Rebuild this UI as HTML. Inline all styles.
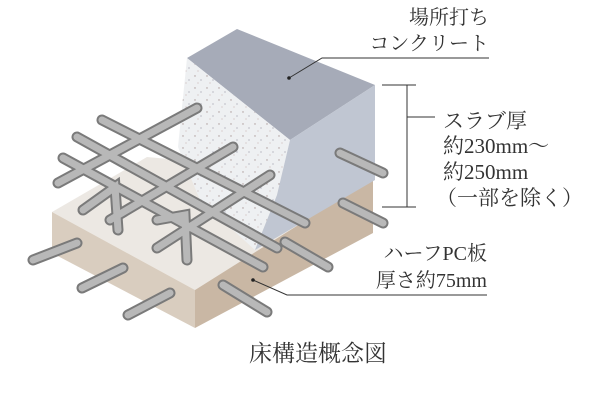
<!DOCTYPE html>
<html><head><meta charset="utf-8"><style>
html,body{margin:0;padding:0;background:#fff;}
svg{display:block;}
text{font-family:"Liberation Serif","Noto Serif CJK SC","Noto Sans CJK JP",serif;fill:#333;}
</style></head><body>
<svg width="600" height="400" viewBox="0 0 600 400" xmlns="http://www.w3.org/2000/svg">
<defs>
<pattern id="sp" width="12" height="12" patternUnits="userSpaceOnUse">
<rect width="12" height="12" fill="#eef0f2"/>
<circle cx="3" cy="4" r="0.7" fill="#a99"/><circle cx="9" cy="8" r="0.6" fill="#9a9aa8"/><circle cx="6" cy="11" r="0.5" fill="#b99"/>
</pattern>
</defs>
<!-- PC slab -->
<polygon points="52,212 147,157 373,178 195,290" fill="#ece8e3"/>
<polygon points="52,212 195,290 195,328 52,253" fill="#d9cdbf"/>
<polygon points="195,290 373,178 373,233 195,328" fill="#c9b7a4"/>
<!-- concrete block -->
<polygon points="187,58 237,29 375,85 290,140" fill="#a6abb8"/>
<polygon points="187,58 290,140 277,195 255,250 200,200 178,147" fill="url(#sp)"/>
<polygon points="290,140 375,85 375,180 255,250 277,195" fill="#c0c6d2"/>
<g stroke-linecap="round" fill="none">
<g stroke="#7a7a7a" stroke-width="11">
<polyline points="83,210 115,187 118,230"/><polyline points="157,220 185,215 187,260"/>
<line x1="58" y1="183" x2="197" y2="108"/><line x1="110" y1="220" x2="233" y2="147"/><line x1="157" y1="248" x2="270" y2="175"/>
<line x1="102" y1="120" x2="305" y2="223"/><line x1="77" y1="137" x2="277" y2="248"/><line x1="63" y1="158" x2="263" y2="267"/>
<line x1="340" y1="153" x2="383" y2="173"/><line x1="343" y1="203" x2="383" y2="223"/><line x1="285" y1="242" x2="328" y2="267"/><line x1="223" y1="285" x2="267" y2="312"/>
<line x1="33" y1="260" x2="77" y2="243"/><line x1="82" y1="288" x2="123" y2="268"/><line x1="128" y1="315" x2="170" y2="293"/>
</g>
<g stroke="#b8b8b8" stroke-width="7">
<polyline points="83,210 115,187 118,230"/><polyline points="157,220 185,215 187,260"/>
<line x1="58" y1="183" x2="197" y2="108"/><line x1="110" y1="220" x2="233" y2="147"/><line x1="157" y1="248" x2="270" y2="175"/>
<line x1="102" y1="120" x2="305" y2="223"/><line x1="77" y1="137" x2="277" y2="248"/><line x1="63" y1="158" x2="263" y2="267"/>
<line x1="340" y1="153" x2="383" y2="173"/><line x1="343" y1="203" x2="383" y2="223"/><line x1="285" y1="242" x2="328" y2="267"/><line x1="223" y1="285" x2="267" y2="312"/>
<line x1="33" y1="260" x2="77" y2="243"/><line x1="82" y1="288" x2="123" y2="268"/><line x1="128" y1="315" x2="170" y2="293"/>
</g>
</g>
<!-- leaders -->
<g stroke="#333" stroke-width="1" fill="none">
<polyline points="289,78 322,58 489,58"/>
<polyline points="253,280 287,295 487,295"/>
<line x1="382" y1="85" x2="416" y2="85"/><line x1="382" y1="207" x2="416" y2="207"/>
<line x1="407" y1="85" x2="407" y2="207"/><line x1="407" y1="117" x2="435" y2="117"/>
</g>
<circle cx="289" cy="78" r="1.8" fill="#222"/><circle cx="253" cy="280" r="1.8" fill="#222"/>
<g font-size="20">
<text x="489" y="24" text-anchor="end">場所打ち</text>
<text x="489" y="50" text-anchor="end">コンクリート</text>
<text x="487" y="260" text-anchor="end">ハーフPC板</text>
<text x="487" y="287" text-anchor="end">厚さ約75mm</text>
</g>
<g font-size="21">
<text x="443" y="128">スラブ厚</text>
<text x="443" y="153">約230mm～</text>
<text x="443" y="179">約250mm</text>
<text x="436" y="205">（一部を除く）</text>
</g>
<text x="318" y="361" text-anchor="middle" font-size="23">床構造概念図</text>
</svg>
</body></html>
